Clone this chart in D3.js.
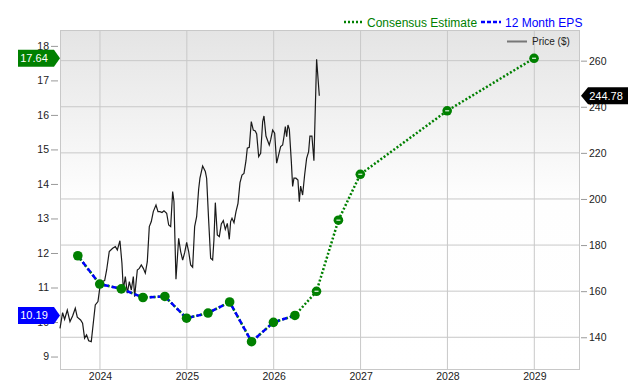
<!DOCTYPE html>
<html>
<head>
<meta charset="utf-8">
<script src="https://cdn.jsdelivr.net/npm/d3@7"></script>
<style>
  body { margin: 0; background: #fff; }
  text { font-family: "Liberation Sans", Arial, sans-serif; }
</style>
</head>
<body>
<div id="chart"></div>
<script>
// data
const epsYears = [2023.745, 2023.997, 2024.246, 2024.495, 2024.747, 2024.997, 2025.244, 2025.493, 2025.745, 2025.997, 2026.244];
const epsValues = [11.92, 11.10, 10.96, 10.71, 10.74, 10.11, 10.26, 10.58, 9.43, 9.99, 10.19];
const consensusYears = [2026.493, 2026.745, 2026.997, 2027.997, 2028.997];
const consensusValues = [10.89, 12.95, 14.28, 16.12, 17.64];
const yearTicks = [2024, 2025, 2026, 2027, 2028, 2029];
const epsTicks = [9, 10, 11, 12, 13, 14, 15, 16, 17, 18];
const priceTicks = [140, 160, 180, 200, 220, 240, 260];

const priceYears = [2023.540, 2023.570, 2023.593, 2023.624, 2023.655, 2023.685, 2023.716, 2023.739, 2023.777, 2023.800,
  2023.823, 2023.846, 2023.870, 2023.900, 2023.923, 2023.946, 2023.977, 2024.000, 2024.023, 2024.054,
  2024.077, 2024.107, 2024.146, 2024.177, 2024.200, 2024.230, 2024.253, 2024.269, 2024.292, 2024.315,
  2024.338, 2024.361, 2024.384, 2024.399, 2024.430, 2024.453, 2024.476, 2024.499, 2024.522, 2024.545,
  2024.568, 2024.591, 2024.614, 2024.645, 2024.668, 2024.691, 2024.714, 2024.737, 2024.768, 2024.791,
  2024.814, 2024.837, 2024.852, 2024.875, 2024.906, 2024.929, 2024.952, 2024.975, 2024.998, 2025.021,
  2025.044, 2025.067, 2025.090, 2025.113, 2025.136, 2025.151, 2025.182, 2025.213, 2025.228, 2025.251,
  2025.274, 2025.297, 2025.312, 2025.328, 2025.351, 2025.374, 2025.397, 2025.420, 2025.443, 2025.466,
  2025.489, 2025.504, 2025.520, 2025.543, 2025.566, 2025.589, 2025.612, 2025.635, 2025.658, 2025.681,
  2025.696, 2025.719, 2025.742, 2025.765, 2025.788, 2025.804, 2025.827, 2025.850, 2025.873, 2025.888,
  2025.911, 2025.934, 2025.949, 2025.965, 2025.988, 2026.011, 2026.034, 2026.057, 2026.080, 2026.103,
  2026.118, 2026.134, 2026.149, 2026.164, 2026.180, 2026.203, 2026.218, 2026.233, 2026.256, 2026.279,
  2026.295, 2026.310, 2026.333, 2026.356, 2026.379, 2026.402, 2026.417, 2026.440, 2026.463, 2026.494,
  2026.525];
const priceValues = [143.9, 150.7, 147.8, 151.8, 146.8, 149.2, 152.6, 148.7, 147.5, 146.1,
  139.6, 141.0, 138.5, 138.1, 146.1, 154.0, 155.5, 162.0, 164.1, 164.6,
  169.2, 177.2, 178.6, 179.3, 177.9, 181.9, 172.1, 160.5, 166.3, 159.1,
  164.1, 160.5, 166.3, 157.6, 169.2, 169.9, 171.4, 169.9, 167.8, 172.8,
  188.0, 190.2, 194.5, 197.4, 194.5, 194.5, 194.1, 194.9, 193.8, 188.7,
  188.0, 203.2, 198.8, 165.2, 182.9, 177.2, 173.5, 176.7, 181.2, 177.2,
  171.4, 170.4, 188.0, 192.3, 204.2, 209.0, 214.3, 211.9, 209.0, 190.9,
  174.3, 173.5, 182.2, 198.4, 184.4, 183.7, 189.2, 190.6, 186.8, 189.4,
  182.5, 190.2, 191.6, 189.7, 194.5, 198.1, 207.1, 210.4, 211.1, 216.6,
  222.0, 222.4, 233.6, 229.9, 229.5, 228.2, 218.4, 219.8, 233.6, 236.0,
  227.3, 224.9, 223.4, 225.6, 229.9, 228.5, 215.5, 219.1, 222.7, 223.4,
  227.0, 231.4, 227.0, 232.1, 230.2, 216.2, 205.4, 209.0, 209.0, 208.2,
  198.8, 205.6, 201.7, 210.4, 217.6, 220.5, 227.3, 227.3, 216.6, 260.6,
  244.78];

const width = 640, height = 380;
const plot = {left: 60, right: 580, top: 30, bottom: 370};

const svg = d3.select("#chart")
  .append("svg")
    .attr("width", width)
    .attr("height", height);

const x = d3.scaleLinear()
  .domain([2023.54, 2029.526])
  .range([plot.left, plot.right]);
const yEps = d3.scaleLinear()
  .domain([8.61, 18.46])
  .range([plot.bottom, plot.top]);
const yPrice = d3.scaleLinear()
  .domain([125.8, 273.3])
  .range([plot.bottom, plot.top]);

// background gradient
const grad = svg.append("defs").append("linearGradient")
  .attr("id", "bg")
  .attr("x1", 0).attr("y1", 0).attr("x2", 0).attr("y2", 1);
grad.append("stop").attr("offset", "0%").attr("stop-color", "#e4e4e4");
grad.append("stop").attr("offset", "50%").attr("stop-color", "#fefefe");
grad.append("stop").attr("offset", "100%").attr("stop-color", "#ffffff");

svg.append("rect")
  .attr("x", plot.left).attr("y", plot.top)
  .attr("width", plot.right - plot.left).attr("height", plot.bottom - plot.top)
  .attr("fill", "url(#bg)");

// grid
svg.append("g").selectAll("line")
  .data(priceTicks)
  .join("line")
    .attr("x1", plot.left).attr("x2", plot.right)
    .attr("y1", d => yPrice(d)).attr("y2", d => yPrice(d))
    .attr("stroke", "#c8c8c8");
svg.append("g").selectAll("line")
  .data(yearTicks)
  .join("line")
    .attr("x1", d => x(d)).attr("x2", d => x(d))
    .attr("y1", plot.top).attr("y2", plot.bottom)
    .attr("stroke", "#c8c8c8");

svg.append("rect")
  .attr("x", plot.left + 0.5).attr("y", plot.top + 0.5)
  .attr("width", plot.right - plot.left - 1).attr("height", plot.bottom - plot.top - 1)
  .attr("fill", "none")
  .attr("stroke", "#c8c8c8");

// axes
const leftAxis = svg.append("g")
  .attr("transform", `translate(58,0)`)
  .call(d3.axisLeft(yEps).tickValues(epsTicks).tickSize(7).tickPadding(2));
const rightAxis = svg.append("g")
  .attr("transform", `translate(581,0)`)
  .call(d3.axisRight(yPrice).tickValues(priceTicks).tickSize(6).tickPadding(2));
const bottomAxis = svg.append("g")
  .attr("transform", `translate(0,${plot.bottom})`)
  .call(d3.axisBottom(x).tickValues(yearTicks).tickFormat(d3.format("d")).tickSize(0).tickPadding(3));

[leftAxis, rightAxis, bottomAxis].forEach(g => {
  g.select(".domain").remove();
  g.selectAll(".tick line").attr("stroke", "#999");
  g.selectAll("text")
    .style("font-family", "'Liberation Sans', Arial, sans-serif")
    .style("font-size", "10.5px")
    .attr("fill", "#222");
});

// price line
const price = priceYears.map((d, i) => ({x: d, v: priceValues[i]}));
svg.append("path")
  .datum(price)
  .attr("fill", "none")
  .attr("stroke", "#1a1a1a")
  .attr("stroke-width", 1.2)
  .attr("d", d3.line().x(d => x(d.x)).y(d => yPrice(d.v)));

// eps lines
const actual = epsYears.map((d, i) => ({x: d, v: epsValues[i]}));
const consensus = consensusYears.map((d, i) => ({x: d, v: consensusValues[i]}));
const epsLine = d3.line().x(d => x(d.x)).y(d => yEps(d.v));

svg.append("path")
  .datum(actual.concat(consensus))
  .attr("fill", "none")
  .attr("stroke", "#008000")
  .attr("stroke-width", 2.5)
  .attr("stroke-dasharray", "2,2")
  .attr("d", epsLine);

svg.append("path")
  .datum(actual)
  .attr("fill", "none")
  .attr("stroke", "#0000ff")
  .attr("stroke-width", 2.5)
  .attr("stroke-dasharray", "5,3")
  .attr("d", epsLine);

svg.append("g").selectAll("circle")
  .data(actual.concat(consensus))
  .join("circle")
    .attr("cx", d => x(d.x))
    .attr("cy", d => yEps(d.v))
    .attr("r", 4.8)
    .attr("fill", "#008000");

svg.append("g").selectAll("line")
  .data(consensus)
  .join("line")
    .attr("x1", d => x(d.x) - 2).attr("x2", d => x(d.x) + 2)
    .attr("y1", d => yEps(d.v)).attr("y2", d => yEps(d.v))
    .attr("stroke", "#cfe8cf")
    .attr("stroke-width", 1.3);

// value flags
function flagLeft(v, color) {
  const cy = yEps(v);
  svg.append("path")
    .attr("d", `M18,${cy - 8.5}H54L60,${cy}L54,${cy + 8.5}H18Z`)
    .attr("fill", color);
  svg.append("text")
    .attr("x", 34).attr("y", cy + 4)
    .attr("text-anchor", "middle")
    .attr("fill", "#fff")
    .style("font-size", "11px")
    .text(d3.format(".2f")(v));
}
flagLeft(consensusValues[consensusValues.length - 1], "#008000");
flagLeft(epsValues[epsValues.length - 1], "#0000ff");

const lastPrice = priceValues[priceValues.length - 1];
const py = yPrice(lastPrice);
svg.append("path")
  .attr("d", `M581,${py}L588,${py - 8.5}H628V${py + 8.5}H588Z`)
  .attr("fill", "#000");
svg.append("text")
  .attr("x", 606).attr("y", py + 4)
  .attr("text-anchor", "middle")
  .attr("fill", "#fff")
  .style("font-size", "11px")
  .text(d3.format(".2f")(lastPrice));

// legend
const legend = svg.append("g");
legend.append("line")
  .attr("x1", 344).attr("x2", 362).attr("y1", 22).attr("y2", 22)
  .attr("stroke", "#008000").attr("stroke-width", 2.5).attr("stroke-dasharray", "2,2");
legend.append("text")
  .attr("x", 367).attr("y", 26.5)
  .attr("fill", "#008000")
  .style("font-size", "12px")
  .text("Consensus Estimate");
legend.append("line")
  .attr("x1", 481).attr("x2", 501).attr("y1", 22).attr("y2", 22)
  .attr("stroke", "#0000ff").attr("stroke-width", 2.5).attr("stroke-dasharray", "4,2");
legend.append("text")
  .attr("x", 505).attr("y", 26.5)
  .attr("fill", "#0000ff")
  .style("font-size", "12px")
  .text("12 Month EPS");
legend.append("line")
  .attr("x1", 507).attr("x2", 527).attr("y1", 41.5).attr("y2", 41.5)
  .attr("stroke", "#777").attr("stroke-width", 2);
legend.append("text")
  .attr("x", 532).attr("y", 45)
  .attr("fill", "#222")
  .style("font-size", "10px")
  .text("Price ($)");
</script>
</body>
</html>
